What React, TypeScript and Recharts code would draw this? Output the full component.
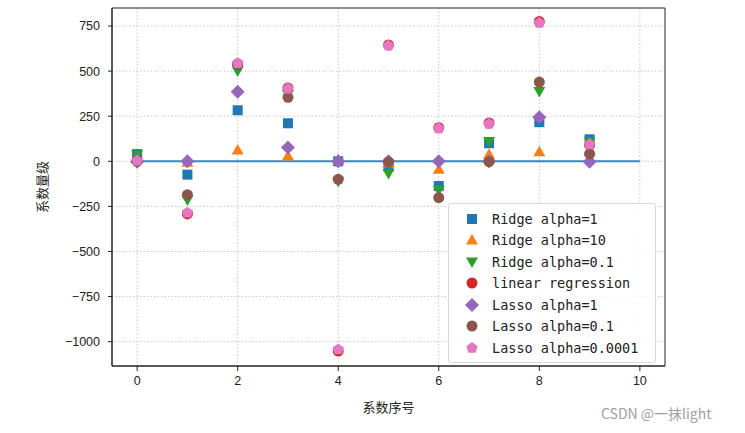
import React from "react";
import {
  ScatterChart,
  Scatter,
  XAxis,
  YAxis,
  CartesianGrid,
  Label,
  ReferenceArea,
} from "recharts";

// 系数序号
const coefIndex = [0, 1, 2, 3, 4, 5, 6, 7, 8, 9];

// 各模型系数
const ridge1 = [40, -74, 283, 211, 0, -30, -137, 100, 217, 122];
const ridge10 = [19, -5, 63, 31, 10, -10, -44, 39, 53, 60];
const ridge01 = [35, -215, 501, 370, -110, -67, -160, 110, 387, 110];
const linearReg = [5, -292, 540, 406, -1052, 645, 186, 212, 775, 90];
const lasso1 = [-3, 0, 385, 76, 0, 0, 0, 0, 244, -3];
const lasso01 = [0, -185, 535, 355, -100, -4, -202, -2, 439, 41];
const lasso00001 = [4, -285, 544, 403, -1043, 641, 183, 207, 767, 94];

// 水平线 y=0 的两个端点
const zeroLineX = [0, 10];

const xTicks = [0, 2, 4, 6, 8, 10];
const yTicks = [-1000, -750, -500, -250, 0, 250, 500, 750];

type Kind = "square" | "up" | "down" | "circle" | "diamond" | "pentagon";

const series: { name: string; values: number[]; color: string; kind: Kind }[] = [
  { name: "Ridge alpha=1", values: ridge1, color: "#1f77b4", kind: "square" },
  { name: "Ridge alpha=10", values: ridge10, color: "#ff7f0e", kind: "up" },
  { name: "Ridge alpha=0.1", values: ridge01, color: "#2ca02c", kind: "down" },
  { name: "linear regression", values: linearReg, color: "#d62728", kind: "circle" },
  { name: "Lasso alpha=1", values: lasso1, color: "#9467bd", kind: "diamond" },
  { name: "Lasso alpha=0.1", values: lasso01, color: "#8c564b", kind: "circle" },
  { name: "Lasso alpha=0.0001", values: lasso00001, color: "#e377c2", kind: "pentagon" },
];

function marker(kind: Kind, color: string, cx: number, cy: number) {
  switch (kind) {
    case "square":
      return <rect x={cx - 5} y={cy - 5} width={10} height={10} fill={color} />;
    case "up":
      return (
        <polygon
          points={`${cx},${cy - 6} ${cx + 6},${cy + 4.5} ${cx - 6},${cy + 4.5}`}
          fill={color}
        />
      );
    case "down":
      return (
        <polygon
          points={`${cx},${cy + 6} ${cx + 6},${cy - 4.5} ${cx - 6},${cy - 4.5}`}
          fill={color}
        />
      );
    case "circle":
      return <circle cx={cx} cy={cy} r={5.5} fill={color} />;
    case "diamond":
      return (
        <polygon
          points={`${cx},${cy - 7} ${cx + 7},${cy} ${cx},${cy + 7} ${cx - 7},${cy}`}
          fill={color}
        />
      );
    case "pentagon": {
      const pts = [0, 1, 2, 3, 4]
        .map((i) => {
          const a = -Math.PI / 2 + (i * 2 * Math.PI) / 5;
          return `${cx + 6 * Math.cos(a)},${cy + 6 * Math.sin(a)}`;
        })
        .join(" ");
      return <polygon points={pts} fill={color} />;
    }
  }
}

const fmt = (v: number) => String(v).replace("-", "\u2212");

// 图例 (放在绘图区右下角)
function LegendBox() {
  return (
    <div
      style={{
        position: "absolute",
        left: 448,
        top: 203,
        width: 178,
        border: "1px solid #d8d8d8",
        borderRadius: 3,
        background: "rgba(255,255,255,0.85)",
        padding: "4px 14px 3px 14px",
      }}
    >
      {series.map((s) => (
        <div
          key={s.name}
          style={{ display: "flex", alignItems: "center", height: 21.5 }}
        >
          <svg width={18} height={16} style={{ marginRight: 11 }}>
            {marker(s.kind, s.color, 9, 8)}
          </svg>
          <span
            style={{
              fontFamily: "DejaVu Sans Mono",
              fontSize: 13.5,
              color: "#222",
              whiteSpace: "pre",
            }}
          >
            {s.name}
          </span>
        </div>
      ))}
    </div>
  );
}

export default function App() {
  const zeroLine = zeroLineX.map((x) => ({ x, y: 0 }));

  return (
    <div
      style={{
        position: "absolute",
        left: 0,
        top: 0,
        width: 745,
        height: 433,
        background: "#fff",
      }}
    >
      <ScatterChart
        width={745}
        height={433}
        margin={{ top: 8, right: 80, bottom: 0, left: 0 }}
      >
        <CartesianGrid
          stroke="#c8c8c8"
          strokeDasharray="1.5 2"
          horizontalValues={yTicks}
          verticalValues={xTicks}
        />
        <XAxis
          type="number"
          dataKey="x"
          domain={[-0.5, 10.5]}
          ticks={xTicks}
          height={67}
          tickSize={5}
          tickMargin={5}
          stroke="#222"
          tick={{ fontSize: 12.5, fill: "#222", fontFamily: "Liberation Sans" }}
          allowDataOverflow
        >
          <Label
            value="系数序号"
            position="insideBottom"
            offset={21}
            style={{ fontSize: 13, fill: "#222", fontFamily: "Noto Sans CJK SC" }}
          />
        </XAxis>
        <YAxis
          type="number"
          dataKey="y"
          domain={[-1135, 850]}
          ticks={yTicks}
          width={112}
          tickSize={4}
          tickMargin={8}
          stroke="#222"
          tickFormatter={fmt}
          tick={{ fontSize: 12.5, fill: "#222", fontFamily: "Liberation Sans" }}
          allowDataOverflow
        >
          <Label
            value="系数量级"
            position="insideLeft"
            angle={-90}
            offset={42}
            style={{
              fontSize: 13,
              fill: "#222",
              fontFamily: "Noto Sans CJK SC",
              textAnchor: "middle",
            }}
          />
        </YAxis>
        <ReferenceArea
          x1={-0.5}
          x2={10.5}
          y1={-1135}
          y2={850}
          fill="none"
          stroke="#222"
          strokeWidth={1}
          ifOverflow="visible"
        />
        <Scatter
          data={zeroLine}
          line={{ stroke: "#3a86c0", strokeWidth: 2 }}
          shape={() => <g />}
          legendType="none"
          isAnimationActive={false}
        />
        {series.map((s) => (
          <Scatter
            key={s.name}
            name={s.name}
            data={coefIndex.map((x, i) => ({ x, y: s.values[i] }))}
            fill={s.color}
            shape={(p: any) => marker(s.kind, s.color, p.cx, p.cy)}
            isAnimationActive={false}
          />
        ))}
      </ScatterChart>
      <LegendBox />
      <div
        style={{
          position: "absolute",
          left: 601,
          top: 403,
          fontFamily: "Noto Sans CJK SC",
          fontSize: 14,
          color: "#a0a0a0",
        }}
      >
        CSDN @一抹light
      </div>
    </div>
  );
}
